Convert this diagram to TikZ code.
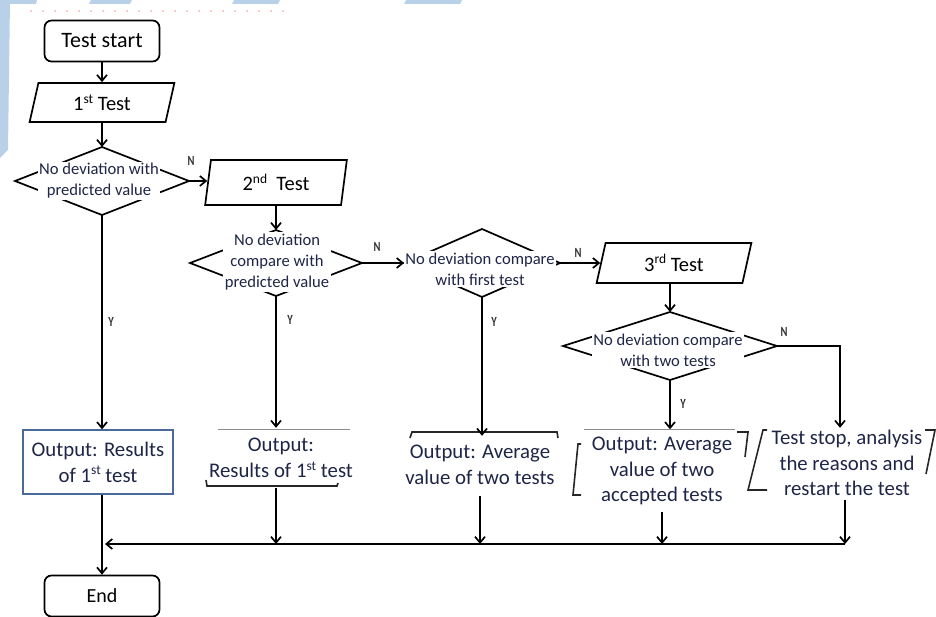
\documentclass[tikz,border=0pt]{standalone}
\usepackage{fontspec}
\setmainfont{Carlito}
\usetikzlibrary{shapes.geometric,arrows.meta}
\definecolor{txt}{HTML}{1E2546}
\definecolor{bluebox}{HTML}{4A6A9C}
\definecolor{pageblue}{HTML}{B9D1E8}
\definecolor{dotred}{HTML}{F8CCCC}
\newcommand{\supx}[1]{\raisebox{0.75ex}{\fontsize{13.5}{13.5}\selectfont #1}}
\begin{document}
\begin{tikzpicture}[x=1pt,y=-1pt,
  conn/.style={draw=black,line width=1.7pt,-{Straight Barb[length=6pt,width=10pt]}},
  term/.style={draw,line width=1.7pt,rounded corners=7pt,minimum width=115pt,minimum height=41pt,inner sep=0pt,font=\fontsize{20}{24}\selectfont},
  para/.style={draw,line width=1.7pt,trapezium,trapezium stretches=true,inner sep=0pt,font=\fontsize{20.5}{24}\selectfont},
  dec/.style={draw,line width=1.7pt,diamond,inner sep=0pt,outer sep=0pt},
  dectext/.style={fill=white,inner sep=1.5pt,align=center,text=txt,font=\fontsize{16.6}{21}\selectfont},
  outtext/.style={align=center,text=txt,inner sep=0pt,font=\fontsize{20.8}{25.8}\selectfont},
  yn/.style={font=\bfseries\fontsize{14}{14}\selectfont,text=black!80,xscale=0.75},
  brk/.style={draw=black!85,line width=1.6pt},
  thin/.style={draw=black!45,line width=0.7pt}]
\useasboundingbox (0,0) rectangle (936,617);
% page decorations
\fill[pageblue] (0,0) -- (10,0) -- (8,150) -- (0,158) -- cycle;
\fill[pageblue] (0,0) -- (37,0) -- (36,4) -- (0,4) -- cycle;
\fill[pageblue] (91,0) -- (132,0) -- (130,4) -- (89,4) -- cycle;
\fill[pageblue] (234,0) -- (280,0) -- (278,4) -- (232,4) -- cycle;
\fill[pageblue] (406,0) -- (462,0) -- (460,4) -- (404,4) -- cycle;
\draw[dotred,line width=1.2pt,dash pattern=on 2pt off 10pt] (30,11) -- (292,11);

% terminals and test boxes
\node[term,font=\fontsize{22}{24}\selectfont] (start) at (102,41) {Test start};
\node[para,trapezium left angle=76,trapezium right angle=104,minimum width=145pt,minimum height=39pt] (t1) at (102,102.5) {1\supx{st} Test};
\node[para,trapezium left angle=80,trapezium right angle=100,minimum width=142pt,minimum height=45pt] (t2) at (276,182.5) {2\supx{nd}\ \ Test};
\node[para,trapezium left angle=77,trapezium right angle=103,minimum width=155pt,minimum height=40pt] (t3) at (674,263) {3\supx{rd} Test};

% decisions
\node[dec,minimum width=174pt,minimum height=68pt] (d1) at (102,181) {};
\node[dectext] (d1t) at (99,181) {No deviation with\\predicted value};
\node[dec,minimum width=172pt,minimum height=66pt] (d2) at (276,263) {};
\node[dectext] (d2t) at (277,262) {No deviation\\compare with\\predicted value};
\node[dec,minimum width=156pt,minimum height=68pt] (d3) at (482,263) {};
\node[dectext] (d3t) at (480,269) {No deviation compare\\with first test};
\node[dec,minimum width=214pt,minimum height=68pt] (d4) at (670,346) {};
\node[dectext] (d4t) at (668,350) {No deviation compare\\with two tests};

% outputs
\node[outtext,draw=bluebox,line width=1.3pt,minimum width=150pt,minimum height=64pt] (o1) at (98,462) {Output: Results\\of 1\supx{st} test};
\node[outtext,minimum width=132pt,minimum height=58pt] (o2) at (281,458) {Output:\\Results of 1\supx{st} test};
\node[outtext,minimum width=146pt,minimum height=62pt] (o3) at (480,465) {Output: Average\\value of two tests};
\node[outtext,minimum width=150pt,minimum height=81pt] (o4) at (662,471) {Output: Average\\value of two\\accepted tests};
\node[outtext,minimum width=160pt,minimum height=74pt] (o5) at (847,463) {Test stop, analysis\\the reasons and\\restart the test};
\node[term] (end) at (102,596) {End};

% output brackets
\draw[thin] (218,429) -- (350,429);
\draw[brk] (206,480) -- (207,486) -- (337,486) -- (338,483);
\draw[brk] (410,438) -- (412,432) -- (557,432) -- (558,438);
\draw[thin] (584,429) -- (735,429);
\draw[brk] (737,432) -- (748,432) -- (745,457);
\draw[brk] (581,444) -- (578,444) -- (573,495) -- (581,495);
\draw[brk] (767,430) -- (763,430) -- (748,490) -- (767,490);
\draw[brk] (925,430) -- (935,430) -- (926,474);

% connectors
\draw[conn] (start.south) -- (t1.north -| start.south);
\draw[conn] (t1.south -| d1.north) -- (d1.north);
\draw[conn] (d1.east) -- (d1.east -| t2.west);
\draw[conn] (t2.south -| d2.north) -- (d2.north);
\draw[conn] (d2.east) -- (d3.west);
\draw[conn] (d3.east) -- (d3.east -| t3.west);
\draw[conn] (t3.south -| d4.north) -- (d4.north);
\draw[conn] (d1.south) -- (d1.south |- o1.north);
\draw[conn] (d2.south) -- ([yshift=1pt]d2.south |- o2.north);
\draw[conn] (d3.south) -- ([yshift=-2pt]d3.south |- o3.north);
\draw[conn] (d4.south) -- ([yshift=1pt]d4.south |- o4.north);
\coordinate (o5in) at ([xshift=-7pt,yshift=-2pt]o5.north);
\draw[conn] (d4.east) -| (o5in);

\coordinate (jn) at (102,544);
\draw[conn] (o1.south -| d1.south) -- (d1.south |- end.north);
\draw[conn] ([yshift=-1pt]o2.south -| d2.south) -- (d2.south |- jn);
\draw[conn] (o3.south) -- (o3.south |- jn);
\draw[conn] (o4.south) -- (o4.south |- jn);
\draw[conn] ([xshift=-2pt]o5.south) -- ([xshift=-2pt]o5.south |- jn);
\draw[conn] ([xshift=-2pt]o5.south |- jn) -- ([xshift=3pt]jn);

% labels
\node[yn] at (191,161) {N};
\node[yn] at (377,247) {N};
\node[yn] at (578,253) {N};
\node[yn] at (784,332) {N};
\node[yn] at (111,322) {Y};
\node[yn] at (290,320) {Y};
\node[yn] at (494,322) {Y};
\node[yn] at (683,404) {Y};
\end{tikzpicture}
\end{document}
